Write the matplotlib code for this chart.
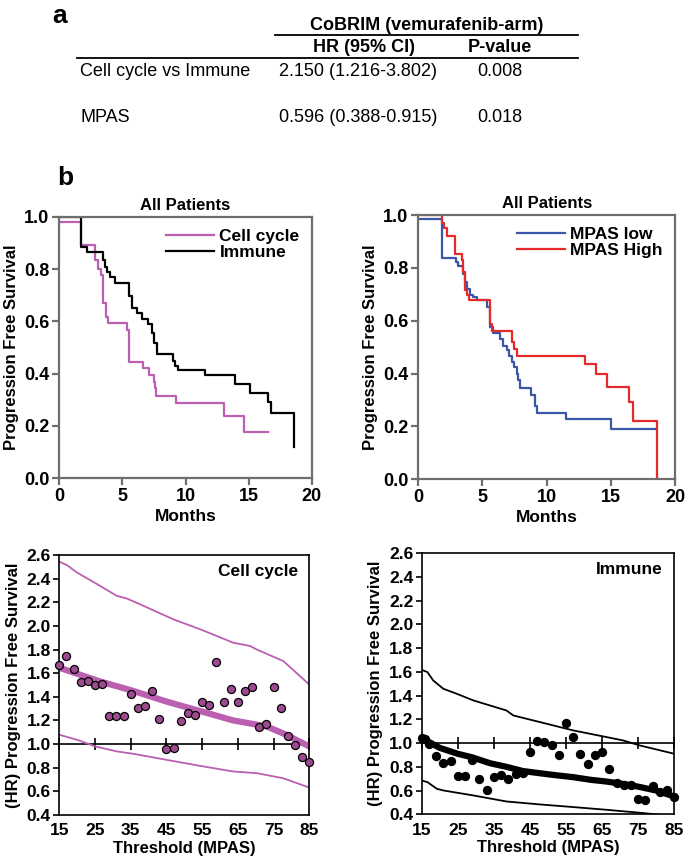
import matplotlib
matplotlib.use("Agg")
import matplotlib.pyplot as plt
from matplotlib.lines import Line2D

W, H = 685, 864

# Kaplan-Meier steps: time (months) and survival after each step
cc_t = [0, 1.72, 2.83, 3.1, 3.3, 3.5, 3.7, 3.89, 5.34, 5.55, 6.6, 7.09, 7.5, 7.6,
        7.7, 9.23, 13.07, 14.66, 16.56]
cc_s = [0.98, 0.892, 0.834, 0.80, 0.777, 0.669, 0.618, 0.593, 0.567, 0.445, 0.42,
        0.395, 0.37, 0.345, 0.315, 0.287, 0.238, 0.178, 0.178]
im_t = [0, 1.75, 2.22, 3.44, 3.62, 3.8, 4.02, 4.41, 5.55, 5.74, 6.13, 6.53, 7.05,
        7.32, 7.5, 7.72, 8.98, 9.2, 9.4, 11.55, 13.96, 15.14, 16.5, 16.8, 18.62]
im_s = [1.0, 0.885, 0.866, 0.835, 0.809, 0.79, 0.771, 0.745, 0.695, 0.65, 0.63,
        0.608, 0.59, 0.554, 0.517, 0.474, 0.45, 0.43, 0.414, 0.395, 0.36, 0.327,
        0.293, 0.251, 0.121]
lo_t = [0, 1.82, 2.94, 3.12, 3.51, 3.64, 3.77, 4.03, 4.29, 4.55, 5.38, 5.59, 5.84,
        6.36, 6.62, 6.88, 7.09, 7.28, 7.45, 7.66, 7.8, 7.95, 8.8, 9.1, 9.25, 11.5,
        15.0, 18.55]
lo_s = [0.985, 0.838, 0.823, 0.806, 0.778, 0.747, 0.72, 0.699, 0.69, 0.677, 0.652,
        0.576, 0.554, 0.532, 0.506, 0.49, 0.468, 0.443, 0.424, 0.40, 0.376, 0.345,
        0.32, 0.278, 0.252, 0.227, 0.189, 0.189]
hi_t = [0, 1.82, 2.0, 2.21, 2.85, 3.38, 3.51, 3.64, 3.77, 3.95, 5.59, 5.72, 7.28,
        7.45, 7.66, 13.0, 13.85, 14.7, 16.4, 16.75, 18.57]
hi_s = [1.0, 0.968, 0.949, 0.92, 0.854, 0.829, 0.785, 0.715, 0.696, 0.677, 0.589,
        0.56, 0.52, 0.494, 0.468, 0.437, 0.40, 0.351, 0.294, 0.222, 0.0]

# HR vs MPAS threshold, cell cycle
cc_thr = [15, 17, 19, 21, 23, 25, 27, 29, 31, 33, 35, 37, 39, 41, 43, 45, 47, 49,
          51, 53, 55, 57, 59, 61, 63, 65, 67, 69, 71, 73, 75, 77, 79, 81, 83, 85]
cc_hr = [1.669, 1.745, 1.637, 1.524, 1.538, 1.496, 1.507, 1.235, 1.241, 1.241,
         1.425, 1.306, 1.32, 1.45, 1.215, 0.955, 0.963, 1.198, 1.263, 1.244, 1.36,
         1.331, 1.691, 1.357, 1.465, 1.36, 1.453, 1.479, 1.144, 1.17, 1.484, 1.306,
         1.071, 0.992, 0.895, 0.847]
cc_fit_x = [15, 26.4, 35.7, 45, 54.4, 63.7, 69.3, 73, 77.7, 82.4, 85]
cc_fit_y = [1.646, 1.53, 1.45, 1.36, 1.28, 1.2, 1.17, 1.15, 1.09, 1.02, 0.98]
cc_up_x = [15, 17.1, 19.9, 26.4, 31.1, 33.9, 37.6, 46.9, 54.4, 63.7, 68.4, 70.3, 77.7, 85]
cc_up_y = [2.543, 2.515, 2.453, 2.339, 2.254, 2.232, 2.183, 2.056, 1.972, 1.858,
           1.83, 1.80, 1.703, 1.504]
cc_lo_x = [15, 19.9, 25.1, 31.1, 35.7, 45, 54.4, 63.7, 70.3, 77.7, 85]
cc_lo_y = [1.079, 1.037, 0.98, 0.938, 0.918, 0.867, 0.816, 0.768, 0.754, 0.711, 0.632]

# HR vs MPAS threshold, immune
im_thr = [15, 16, 17, 19, 21, 23, 25, 27, 29, 31, 33, 35, 37, 39, 41, 43, 45, 47,
          49, 51, 53, 55, 57, 59, 61, 63, 65, 67, 69, 71, 73, 75, 77, 79, 81, 83, 85]
im_hr = [1.042, 1.035, 0.99, 0.89, 0.834, 0.851, 0.722, 0.722, 0.854, 0.697, 0.601,
         0.711, 0.728, 0.697, 0.742, 0.75, 0.924, 1.014, 1.008, 0.98, 0.904, 1.171,
         1.048, 0.91, 0.82, 0.896, 0.924, 0.778, 0.666, 0.643, 0.643, 0.528, 0.522,
         0.635, 0.587, 0.601, 0.545]
im_fit_x = [15, 17, 20, 25, 29, 34, 38.5, 43, 48, 52, 57, 62, 66, 71, 75.5, 80, 85]
im_fit_y = [1.04, 1.01, 0.96, 0.91, 0.88, 0.83, 0.80, 0.765, 0.745, 0.73, 0.713,
            0.69, 0.677, 0.655, 0.63, 0.60, 0.55]
im_up_x = [15, 16.6, 18.2, 21, 24.7, 29.3, 38.5, 40.4, 47.8, 57, 66.2, 70.9, 75.5, 85]
im_up_y = [1.618, 1.598, 1.528, 1.458, 1.416, 1.36, 1.275, 1.233, 1.177, 1.107,
           1.051, 1.022, 0.98, 0.91]
im_lo_x = [15, 16.6, 19.2, 21, 29.3, 38.5, 47.8, 57, 66.2, 75.5, 81, 85]
im_lo_y = [0.685, 0.671, 0.615, 0.601, 0.559, 0.508, 0.483, 0.461, 0.438, 0.413,
           0.396, 0.382]

PINK = "#bb5fb0"
DOT = "#9e4a90"
BLUE = "#3a56a6"
RED = "#e62a2c"
GREY = "#6e6e6e"

plt.rcParams["font.family"] = ["Liberation Sans", "DejaVu Sans"]
plt.rcParams["font.weight"] = "bold"

fig = plt.figure(figsize=(W / 100, H / 100), dpi=100)


def px_axes(l, t, r, b):
    return fig.add_axes([l / W, 1 - b / H, (r - l) / W, (b - t) / H])


def fx(x):
    return x / W


def fy(y):
    return 1 - y / H


# ---------------- panel a: table ----------------
fig.text(fx(52), fy(16), "a", fontsize=19, fontweight="bold", va="center")
fig.text(fx(427), fy(25), "CoBRIM (vemurafenib-arm)", fontsize=13,
         fontweight="bold", ha="center", va="center")
fig.add_artist(Line2D([fx(275), fx(578)], [fy(35), fy(35)], color="k", lw=1.3))
fig.text(fx(364), fy(47), "HR (95% CI)", fontsize=13, fontweight="bold",
         ha="center", va="center")
fig.text(fx(500), fy(47), "P-value", fontsize=13, fontweight="bold",
         ha="center", va="center")
fig.add_artist(Line2D([fx(77), fx(578)], [fy(58), fy(58)], color="k", lw=1.3))
rows = [("Cell cycle vs Immune", "2.150 (1.216-3.802)", "0.008", 72),
        ("MPAS", "0.596 (0.388-0.915)", "0.018", 118)]
for name, hr, p, y in rows:
    fig.text(fx(80), fy(y), name, fontsize=13, fontweight="normal", va="center")
    fig.text(fx(279), fy(y), hr, fontsize=13, fontweight="normal", va="center")
    fig.text(fx(500), fy(y), p, fontsize=13, fontweight="normal",
             ha="center", va="center")

fig.text(fx(57), fy(178), "b", fontsize=19, fontweight="bold", va="center")


# ---------------- KM panels ----------------
def km_axes(ax, curves, labels, colors):
    for (t, s), lab, c in zip(curves, labels, colors):
        ax.step(t, s, where="post", color=c, lw=1.6, label=lab)
    ax.set_xlim(0, 20)
    ax.set_ylim(0, 1)
    ax.set_xticks([0, 5, 10, 15, 20])
    ax.set_yticks([0, 0.2, 0.4, 0.6, 0.8, 1.0])
    ax.set_yticklabels(["0.0", "0.2", "0.4", "0.6", "0.8", "1.0"])
    for sp in ax.spines.values():
        sp.set_color(GREY)
        sp.set_linewidth(1.6)
    ax.tick_params(direction="out", length=5, width=1.6, color=GREY,
                   labelsize=13, pad=2)
    ax.set_title("All Patients", fontsize=12, fontweight="bold", pad=5)
    ax.set_xlabel("Months", fontsize=12.5, fontweight="bold", labelpad=3)
    ax.set_ylabel("Progression Free Survival", fontsize=12, fontweight="bold",
                  labelpad=4)
    ax.legend(loc="upper right", bbox_to_anchor=(1.0, 1.0), frameon=False,
              fontsize=12.5, handlelength=2.8, handletextpad=0.3,
              labelspacing=0.05, borderaxespad=0.3)


ax1 = px_axes(59.3, 216.7, 311.7, 478.3)
km_axes(ax1, [(cc_t, cc_s), (im_t, im_s)], ["Cell cycle", "Immune"], [PINK, "k"])
ax2 = px_axes(418.3, 215, 675, 479.3)
km_axes(ax2, [(lo_t, lo_s), (hi_t, hi_s)], ["MPAS low", "MPAS High"], [BLUE, RED])


# ---------------- HR vs threshold panels ----------------
def hr_axes(ax, thr, hr, fx_, fy_, ux, uy, lx, ly, color, dot, name):
    ax.plot(ux, uy, color=color, lw=1.3)
    ax.plot(lx, ly, color=color, lw=1.3)
    ax.plot(fx_, fy_, color=color, lw=4.5, solid_capstyle="butt")
    ax.plot(thr, hr, "o", ms=5.8, mfc=dot, mec="k", mew=0.9, zorder=5,
            clip_on=False)
    ax.set_xlim(15, 85)
    ax.set_ylim(0.4, 2.6)
    ax.set_xticks([15, 25, 35, 45, 55, 65, 75, 85])
    ax.set_yticks([0.4, 0.6, 0.8, 1.0, 1.2, 1.4, 1.6, 1.8, 2.0, 2.2, 2.4, 2.6])
    ax.set_yticklabels(["0.4", "0.6", "0.8", "1.0", "1.2", "1.4", "1.6", "1.8",
                        "2.0", "2.2", "2.4", "2.6"])
    for sp in ax.spines.values():
        sp.set_color("k")
        sp.set_linewidth(1.2)
    ax.tick_params(axis="x", length=0, labelsize=12.5, pad=6)
    ax.tick_params(axis="y", direction="out", length=4, width=1.2,
                   labelsize=12.5, pad=2)
    # horizontal axis crossing at HR = 1.0
    lo, hi = ax.get_ylim()
    sec = ax.secondary_xaxis((1.0 - lo) / (hi - lo))
    sec.set_xticks([15, 25, 35, 45, 55, 65, 75, 85])
    sec.tick_params(direction="inout", length=8, width=1.2, labelbottom=False,
                    labeltop=False)
    sec.spines["bottom"].set_linewidth(1.2)
    sec.spines["top"].set_linewidth(1.2)
    ax.text(0.955, 0.965, name, transform=ax.transAxes, ha="right", va="top",
            fontsize=12.5, fontweight="bold")
    ax.set_xlabel("Threshold (MPAS)", fontsize=12, fontweight="bold", labelpad=2)
    ax.set_ylabel("(HR) Progression Free Survival", fontsize=12,
                  fontweight="bold", labelpad=4)


ax3 = px_axes(59.3, 555, 309.3, 815)
hr_axes(ax3, cc_thr, cc_hr, cc_fit_x, cc_fit_y, cc_up_x, cc_up_y, cc_lo_x, cc_lo_y,
        PINK, DOT, "Cell cycle")
ax4 = px_axes(421.7, 553.3, 674.3, 814.3)
hr_axes(ax4, im_thr, im_hr, im_fit_x, im_fit_y, im_up_x, im_up_y, im_lo_x, im_lo_y,
        "k", "k", "Immune")

fig.savefig("out.png", dpi=100)
